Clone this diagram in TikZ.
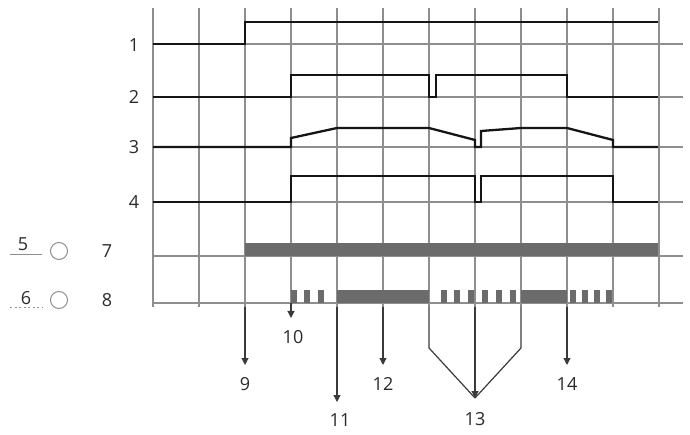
\documentclass[tikz,border=0pt]{standalone}
\usepackage{fontspec}
\setmainfont{Open Sans}
\usetikzlibrary{arrows.meta}
\definecolor{gridc}{HTML}{8E8E8E}
\definecolor{sigc}{HTML}{151515}
\definecolor{barc}{HTML}{6B6B6B}
\definecolor{txtc}{HTML}{2A2A2A}
\definecolor{arrc}{HTML}{3A3A3A}
\begin{document}
\begin{tikzpicture}[x=1pt,y=-1pt,
 gridline/.style={gridc, line width=1.2pt},
 signal/.style={sigc, line width=2.3pt, line join=miter},
 bar/.style={fill=barc, draw=none},
 arr/.style={draw=arrc, line width=1.2pt, -{Triangle[length=7pt,width=7pt]}},
 conn/.style={draw=arrc, line width=1.2pt},
 lbl/.style={text=txtc, font=\fontsize{18}{20}\selectfont, inner sep=0pt},
 lamp/.style={draw=gridc, line width=1pt, circle, minimum size=17pt, inner sep=0pt},
]
\useasboundingbox (0,0) rectangle (690,435);
% grid
\foreach \i in {0,...,11} \draw[gridline] (153+46*\i, 8) -- (153+46*\i, 307);
\foreach \y in {44,97,147,202,256,303} \draw[gridline] (153,\y) -- (683,\y);
% bar 7
\fill[bar] (245,243) rectangle (658,256);
% bar 8
\fill[bar] (337,290) rectangle (429,303);
\fill[bar] (521,290) rectangle (567,303);
\foreach \a in {291,304,318,441,454,468,482,496,510,570,582,594,606}
  \fill[bar] (\a,290) rectangle (\a+6,303);
% signals
\draw[signal] (153,44) -- (245,44) -- (245,22) -- (658,22);
\draw[signal] (153,97) -- (291,97) -- (291,75) -- (429,75) -- (429,97) -- (436,97) -- (436,75) -- (567,75) -- (567,97) -- (658,97);
\draw[signal] (153,147) -- (291,147) -- (291,138) -- (337,128) -- (429,128) -- (475,140) -- (475,147) -- (481,147) -- (481,131) -- (521,128) -- (567,128) -- (613,140) -- (613,147) -- (658,147);
\draw[signal] (153,202) -- (291,202) -- (291,176) -- (475,176) -- (475,202) -- (481,202) -- (481,176) -- (613,176) -- (613,202) -- (658,202);
% row labels
\node[lbl] (r1) at (134,45) {1};
\node[lbl] (r2) at (134,97) {2};
\node[lbl] (r3) at (134,147) {3};
\node[lbl] (r4) at (134,202) {4};
% legend
\node[lbl] (k5) at (23,244) {5};
\coordinate (u5a) at (10,255); \coordinate (u5b) at (42,255);
\draw[gridc, line width=1pt] (u5a) -- (u5b);
\node[lamp] (c5) at (59,251) {};
\node[lbl] (k7) at (107,251) {7};
\node[lbl] (k6) at (26,298) {6};
\coordinate (u6a) at (10,308); \coordinate (u6b) at (42,308);
\draw[gridc, line width=1pt, dash pattern=on 2pt off 2.5pt] (u6a) -- (u6b);
\node[lamp] (c6) at (59,300) {};
\node[lbl] (k8) at (107,300) {8};
% event arrows
\coordinate (s9) at (245,307); \coordinate (e9) at (245,365);
\coordinate (s10) at (291,303); \coordinate (e10) at (291,318);
\coordinate (s11) at (337,307); \coordinate (e11) at (337,402);
\coordinate (s12) at (383,307); \coordinate (e12) at (383,365);
\coordinate (s13a) at (429,307); \coordinate (b13a) at (429,348);
\coordinate (s13b) at (475,307); \coordinate (e13) at (475,398);
\coordinate (s13c) at (521,307); \coordinate (b13c) at (521,348);
\coordinate (s14) at (567,307); \coordinate (e14) at (567,365);
\draw[arr] (s9) -- (e9);
\draw[arr] (s10) -- (e10);
\draw[arr] (s11) -- (e11);
\draw[arr] (s12) -- (e12);
\draw[conn] (s13a) -- (b13a) -- (e13);
\draw[conn] (s13c) -- (b13c) -- (e13);
\draw[arr] (s13b) -- (e13);
\draw[arr] (s14) -- (e14);
\node[lbl] (l9) at (245,384) {9};
\node[lbl] (l10) at (293,337) {10};
\node[lbl] (l11) at (340,420) {11};
\node[lbl] (l12) at (383,384) {12};
\node[lbl] (l13) at (475,419) {13};
\node[lbl] (l14) at (567,384) {14};
\end{tikzpicture}
\end{document}
